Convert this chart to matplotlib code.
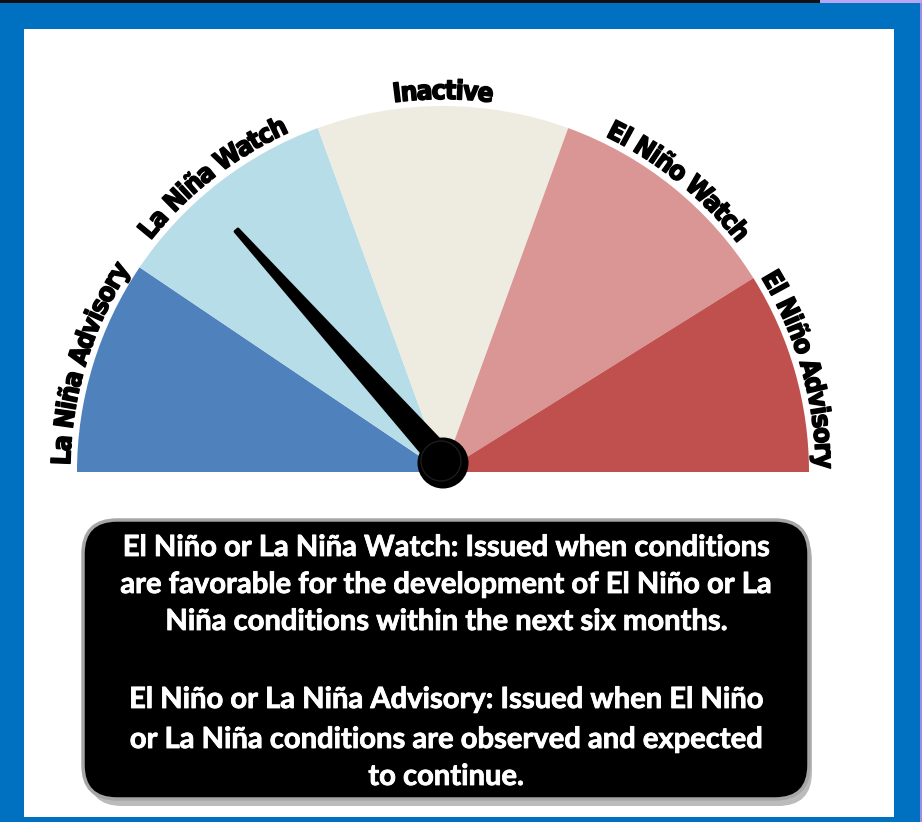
import matplotlib
matplotlib.use('Agg')
import matplotlib.pyplot as plt
import matplotlib.patheffects as pe
import numpy as np
from matplotlib.patches import Wedge, Circle, Polygon, Rectangle, FancyBboxPatch
from matplotlib.font_manager import FontProperties, fontManager
from matplotlib.textpath import TextToPath

# gauge categories, left to right, with the span of each (degrees)
categories = ['La Niña Advisory', 'La Niña Watch', 'Inactive', 'El Niño Watch', 'El Niño Advisory']
spans = [34, 36, 40, 38, 32]
colors = ['#4F81BD', '#B7DDE8', '#EEECE1', '#D99694', '#C0504D']
needle_angle = 130.5  # degrees, 180 = far left

box_lines = [
    'El Niño or La Niña Watch: Issued when conditions',
    'are favorable for the development of El Niño or La',
    'Niña conditions within the next six months.',
    '',
    'El Niño or La Niña Advisory: Issued when El Niño',
    'or La Niña conditions are observed and expected',
    'to continue.',
]

W, H = 922, 822
DPI = 100
fig = plt.figure(figsize=(W / DPI, H / DPI), dpi=DPI)
ax = fig.add_axes([0, 0, 1, 1])
ax.set_xlim(0, W)
ax.set_ylim(0, H)
ax.axis('off')


def Y(y):
    # image row -> data y
    return H - y


# frame
fig.patch.set_facecolor('#0070C0')
ax.add_patch(Rectangle((0, Y(3)), 820, 3, color='#111111', lw=0))
ax.add_patch(Rectangle((820, Y(3)), 102, 3, color='#B9A6F0', lw=0))
ax.add_patch(Rectangle((920, 0), 2, H - 3, color='#9A8FE8', lw=0))
ax.add_patch(Rectangle((24, Y(817)), 870, 817 - 29, color='white', lw=0))

# gauge
cx, cy = 443, Y(472)
R = 366
start = 180
bounds = []
for span, col in zip(spans, colors):
    ax.add_patch(Wedge((cx, cy), R, start - span, start, color=col, lw=0))
    bounds.append((start - span, start))
    start -= span


# pick a narrow bold face for the curved labels
def pick_label_font():
    for f in fontManager.ttflist:
        if f.name == 'Liberation Sans Narrow' and f.weight in ('bold', 700) and f.style == 'normal':
            return FontProperties(fname=f.fname), 1.0
    for f in fontManager.ttflist:
        if f.name == 'DejaVu Sans' and f.stretch == 'condensed' and f.weight in ('bold', 700) \
                and f.style == 'normal':
            return FontProperties(fname=f.fname), 0.92
    return FontProperties(family='DejaVu Sans', weight='bold'), 0.84


fp, squeeze = pick_label_font()
t2p = TextToPath()
r_text = 373


def width_px(s, prop):
    w, h, d = t2p.get_text_width_height_descent(s, prop, ismath=False)
    return w * DPI / 72.0


fp.set_size(19)
outline = [pe.withStroke(linewidth=1.1, foreground='black')]

for (a0, a1), label in zip(bounds, categories):
    mid = (a0 + a1) / 2.0
    total = width_px(label, fp) * squeeze
    a_start = np.radians(mid) + total / 2.0 / r_text
    for i, ch in enumerate(label):
        pre = (width_px(label[:i], fp) if i > 0 else 0.0)
        wch = width_px(label[:i + 1], fp) - pre
        a = a_start - (pre + wch / 2.0) * squeeze / r_text
        x = cx + r_text * np.cos(a)
        y = cy + r_text * np.sin(a)
        ax.text(x, y, ch, fontproperties=fp, rotation=np.degrees(a) - 90,
                rotation_mode='anchor', ha='center', va='baseline', color='black',
                path_effects=outline)

# needle
th = np.radians(needle_angle)
L = 318
ux, uy = np.cos(th), np.sin(th)
px, py = -uy, ux
base_w, tip_w = 12, 2
needle = Polygon([
    (cx + 8 * uy + base_w * px, cy - 8 * ux + base_w * py),
    (cx + L * ux + tip_w * px, cy + L * uy + tip_w * py),
    (cx + L * ux - tip_w * px, cy + L * uy - tip_w * py),
    (cx + 8 * uy - base_w * px, cy - 8 * ux - base_w * py),
], closed=True, color='black', joinstyle='round', lw=2)
ax.add_patch(needle)
ax.add_patch(Circle((cx, Y(463)), 25.5, color='black', lw=0, zorder=5))
ax.add_patch(Circle((cx - 2, Y(461)), 20, fill=False, ec='#1c1c1c', lw=1.0, zorder=6))

# info box
ax.add_patch(FancyBboxPatch((88, Y(806)), 724, 280, boxstyle='round,pad=0,rounding_size=34',
                            fc='#BBBBBB', ec='none', zorder=6))
ax.add_patch(FancyBboxPatch((83, Y(799)), 726, 279, boxstyle='round,pad=0,rounding_size=34',
                            fc='black', ec='#A6A6A6', lw=2.5, zorder=7))
line_y = [548, 585, 622, 660, 700, 740, 777]
for yy, line in zip(line_y, box_lines):
    if line:
        ax.text(446, Y(yy), line, ha='center', va='center', color='white',
                family='Lato', weight='bold', fontsize=21, zorder=8,
                path_effects=[pe.withStroke(linewidth=0.6, foreground='white')])

fig.savefig('out.png', dpi=DPI, facecolor=fig.get_facecolor())
